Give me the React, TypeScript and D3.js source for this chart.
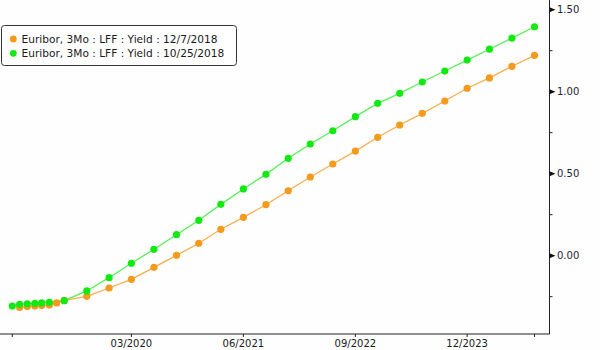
import React from "react";
import * as d3 from "d3";

const W = 600;
const H = 350;

const legendLabels = [
  "Euribor, 3Mo : LFF : Yield : 12/7/2018",
  "Euribor, 3Mo : LFF : Yield : 10/25/2018",
];

const quarterlyMonths = [
  "2019-09", "2019-12", "2020-03", "2020-06", "2020-09", "2020-12", "2021-03",
  "2021-06", "2021-09", "2021-12", "2022-03", "2022-06", "2022-09", "2022-12",
  "2023-03", "2023-06", "2023-09", "2023-12", "2024-03", "2024-06", "2024-09",
];

const orangeMonths = ["2018-12", "2019-01", "2019-02", "2019-03", "2019-04", "2019-05", "2019-06", ...quarterlyMonths];
const orangeValues = [
  -0.316, -0.31, -0.307, -0.304, -0.301, -0.288, -0.273,
  -0.248, -0.197, -0.144, -0.071, 0.002, 0.076, 0.161, 0.234, 0.311, 0.396,
  0.48, 0.559, 0.638, 0.722, 0.797, 0.868, 0.943, 1.021, 1.084, 1.155, 1.222,
];

const greenMonths = ["2018-11", "2018-12", "2019-01", "2019-02", "2019-03", "2019-04", "2019-06", ...quarterlyMonths];
const greenValues = [
  -0.307, -0.296, -0.293, -0.29, -0.288, -0.284, -0.274,
  -0.215, -0.134, -0.046, 0.039, 0.128, 0.216, 0.313, 0.407, 0.496, 0.594,
  0.681, 0.762, 0.848, 0.929, 0.99, 1.059, 1.126, 1.193, 1.259, 1.327, 1.396,
];

const xTickMonths = ["2020-03", "2021-06", "2022-09", "2023-12"];
const xEndMonths = ["2018-11", "2024-09"];
const yMajorTicks = [0, 0.5, 1.0, 1.5];
const yMinorTicks = [-0.25, 0.25, 0.75, 1.25];

const parseMonth = (s: string) => {
  const [y, m] = s.split("-").map(Number);
  return new Date(y, m - 1, 1);
};

const ORANGE_DOT = "#f49a1c";
const ORANGE_LINE = "#f7ae4a";
const GREEN_DOT = "#12e812";
const GREEN_LINE = "#55f055";
const FONT = "DejaVu Sans, Verdana, sans-serif";

export default function App() {
  const axisX = 549.5;
  const axisY = 334;
  const x = d3
    .scaleTime()
    .domain([parseMonth("2018-11"), parseMonth("2024-09")])
    .range([12.3, 534.5]);
  const y = d3.scaleLinear().domain([0, 1.5]).range([255.7, 9.7]);

  const fmt = d3.timeFormat("%m/%Y");

  const line = d3
    .line<[Date, number]>()
    .x((d) => x(d[0]))
    .y((d) => y(d[1]));

  const orange: [Date, number][] = orangeMonths.map((m, i) => [parseMonth(m), orangeValues[i]]);
  const green: [Date, number][] = greenMonths.map((m, i) => [parseMonth(m), greenValues[i]]);

  return (
    <svg
      width={W}
      height={H}
      style={{ position: "absolute", left: 0, top: 0, display: "block", background: "#fefefe" }}
      fontFamily={FONT}
    >
      <rect x={0} y={0} width={W} height={H} fill="#fefefe" />
      {/* series */}
      <path d={line(orange) || ""} fill="none" stroke={ORANGE_LINE} strokeWidth={1.3} />
      <path d={line(green) || ""} fill="none" stroke={GREEN_LINE} strokeWidth={1.3} />
      {orange.map((d, i) => (
        <circle key={"o" + i} cx={x(d[0])} cy={y(d[1])} r={3.6} fill={ORANGE_DOT} />
      ))}
      {green.map((d, i) => (
        <circle key={"g" + i} cx={x(d[0])} cy={y(d[1])} r={3.6} fill={GREEN_DOT} />
      ))}

      {/* axes */}
      <line x1={axisX} y1={0} x2={axisX} y2={axisY} stroke="#222" strokeWidth={1} />
      <line x1={0} y1={axisY} x2={axisX} y2={axisY} stroke="#222" strokeWidth={1} />

      {yMajorTicks.map((t) => (
        <g key={"ym" + t}>
          <path
            d={`M${axisX},${y(t) - 2.5} L${axisX + 6},${y(t)} L${axisX},${y(t) + 2.5} Z`}
            fill="#111"
          />
          <text x={axisX + 7.5} y={y(t)} dy="0.35em" fontSize={10} fill="#1c2436">
            {t.toFixed(2)}
          </text>
        </g>
      ))}
      {yMinorTicks.map((t) => (
        <line key={"yn" + t} x1={axisX} y1={y(t)} x2={axisX + 3} y2={y(t)} stroke="#222" />
      ))}

      {xTickMonths.map((m) => {
        const px = x(parseMonth(m));
        return (
          <g key={"xt" + m}>
            <line x1={px} y1={axisY} x2={px} y2={axisY + 3} stroke="#222" />
            <text x={px} y={343} dy="0.35em" textAnchor="middle" fontSize={10} fill="#1a1a1a">
              {fmt(parseMonth(m))}
            </text>
          </g>
        );
      })}
      {xEndMonths.map((m) => {
        const px = x(parseMonth(m));
        return <line key={"xe" + m} x1={px} y1={axisY} x2={px} y2={axisY + 3} stroke="#222" />;
      })}

      {/* legend */}
      <rect x={1.5} y={25.5} width={235} height={40} rx={3} ry={3} fill="#ffffff" stroke="#333" strokeWidth={1} />
      {legendLabels.map((lab, i) => (
        <g key={"lg" + i}>
          <circle cx={13.3} cy={39 + i * 14.3} r={3.4} fill={i === 0 ? ORANGE_DOT : GREEN_DOT} />
          <text x={21.5} y={39 + i * 14.3} dy="0.35em" fontSize={10.6} fill="#1a1a1a">
            {lab}
          </text>
        </g>
      ))}
    </svg>
  );
}
